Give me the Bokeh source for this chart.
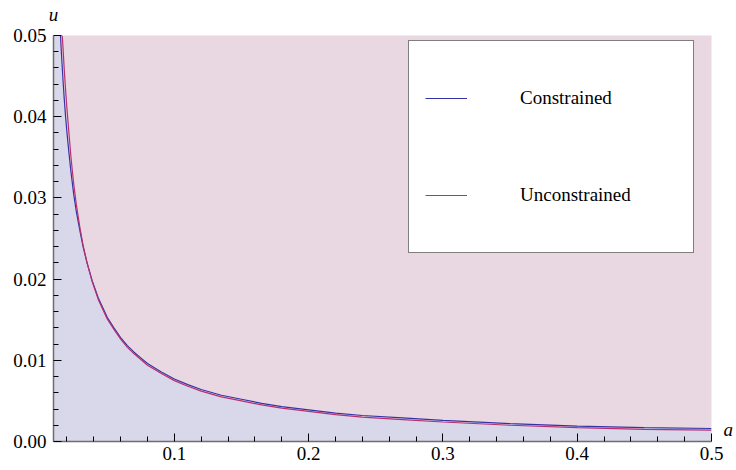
from bokeh.plotting import figure
from bokeh.models import (FixedTicker, NumeralTickFormatter, Legend, LegendItem,
                          LinearAxis, Range1d)
from bokeh.embed import file_html
from bokeh.resources import INLINE

# ---- data ----
a_constrained = [0.0152, 0.016, 0.017, 0.018, 0.019, 0.020, 0.0214, 0.023, 0.025, 0.027,
                 0.0296, 0.032, 0.035, 0.0388, 0.0433, 0.05, 0.055, 0.06, 0.065, 0.07,
                 0.075, 0.08, 0.09, 0.1, 0.11, 0.12, 0.135, 0.15, 0.165, 0.18, 0.2,
                 0.22, 0.24, 0.27, 0.3, 0.35, 0.4, 0.45, 0.5]
u_constrained = [0.0500, 0.0475, 0.0447, 0.0422, 0.0400, 0.0381, 0.0357, 0.0332, 0.0305,
                 0.0283, 0.0260, 0.0240, 0.0220, 0.0198, 0.0177, 0.0153, 0.0140, 0.0128,
                 0.0118, 0.0110, 0.0103, 0.0096, 0.0086, 0.0077, 0.0070, 0.0064, 0.0057,
                 0.0052, 0.0047, 0.0043, 0.0039, 0.0035, 0.0032, 0.0029, 0.0026, 0.0022,
                 0.0019, 0.0017, 0.0016]

a_unconstrained = [0.0165, 0.017, 0.018, 0.019, 0.020, 0.0215, 0.023, 0.025, 0.027,
                   0.0296, 0.032, 0.035, 0.0388, 0.0433, 0.05, 0.055, 0.06, 0.065, 0.07,
                   0.075, 0.08, 0.09, 0.1, 0.11, 0.12, 0.135, 0.15, 0.165, 0.18, 0.2,
                   0.22, 0.24, 0.27, 0.3, 0.35, 0.4, 0.45, 0.5]
u_unconstrained = [0.0500, 0.0487, 0.0458, 0.0433, 0.0410, 0.0380, 0.0350, 0.0318, 0.0292,
                   0.0264, 0.0242, 0.0220, 0.0197, 0.0175, 0.0151, 0.0138, 0.0126, 0.0116,
                   0.0108, 0.0101, 0.0094, 0.0084, 0.0075, 0.0068, 0.0062, 0.0055, 0.0050,
                   0.0045, 0.0041, 0.0037, 0.0033, 0.0030, 0.0027, 0.0024, 0.0020, 0.0017,
                   0.0015, 0.0014]

x_range = (0.01, 0.5)
y_range = (0.0, 0.05)
x_major_ticks = [0.1, 0.2, 0.3, 0.4, 0.5]
x_minor_ticks = [0.02, 0.04, 0.06, 0.08, 0.12, 0.14, 0.16, 0.18, 0.22, 0.24, 0.26, 0.28,
                 0.32, 0.34, 0.36, 0.38, 0.42, 0.44, 0.46, 0.48]
y_major_ticks = [0.0, 0.01, 0.02, 0.03, 0.04, 0.05]
y_minor_ticks = [0.002, 0.004, 0.006, 0.008, 0.012, 0.014, 0.016, 0.018, 0.022, 0.024,
                 0.026, 0.028, 0.032, 0.034, 0.036, 0.038, 0.042, 0.044, 0.046, 0.048]
series_names = ["Constrained", "Unconstrained"]
x_axis_name = "a"
y_axis_name = "u"

# ---- styles ----
BLUE = "#3434a8"
RED = "#b8306e"
FILL_BELOW = "#d9d8ea"
FILL_ABOVE = "#e9d8e2"
SERIF = "Liberation Serif"
A_NAME_LEVEL = 0.0015   # vertical placement of the "a" axis name (on a right-hand axis)

p = figure(width=736, height=470, output_backend="svg", toolbar_location=None,
           x_range=Range1d(*x_range), y_range=Range1d(*y_range),
           min_border_left=53, min_border_right=25, min_border_top=34,
           min_border_bottom=29)
p.background_fill_color = FILL_ABOVE
p.border_fill_color = "white"
p.outline_line_color = None
p.xgrid.visible = False
p.ygrid.visible = False

# fill below the constrained curve (clipped at the top of the frame)
fill_x = [x_range[0]] + a_constrained
fill_y = [y_range[1]] + u_constrained
p.varea(x=fill_x, y1=[y_range[0]] * len(fill_x), y2=fill_y, fill_color=FILL_BELOW)

r_c = p.line(a_constrained, u_constrained, line_color=BLUE, line_width=1.2)
r_u = p.line(a_unconstrained, u_unconstrained, line_color=RED, line_width=1.2)

legend = Legend(items=[LegendItem(label=series_names[0], renderers=[r_c]),
                       LegendItem(label=series_names[1], renderers=[r_u])],
                location=(355, 188), margin=0, padding=16,
                glyph_width=42, glyph_height=82, label_height=82,
                label_width=157, label_standoff=53, spacing=15,
                border_line_color="black", border_line_width=1,
                background_fill_color="white", background_fill_alpha=1.0,
                label_text_font=SERIF, label_text_font_size="19px",
                label_text_color="black")
p.add_layout(legend, "center")

# axes
for ax in (p.xaxis[0], p.yaxis[0]):
    ax.axis_line_color = "#6e6e6e"
    ax.axis_line_width = 1.5
    ax.major_tick_line_color = "black"
    ax.minor_tick_line_color = "black"
    ax.major_tick_in = 8
    ax.major_tick_out = 0
    ax.minor_tick_in = 5
    ax.minor_tick_out = 0
    ax.major_label_text_font = SERIF
    ax.major_label_text_font_size = "19px"
    ax.major_label_text_color = "black"

p.xaxis[0].ticker = FixedTicker(ticks=x_major_ticks, minor_ticks=x_minor_ticks)
p.yaxis[0].ticker = FixedTicker(ticks=y_major_ticks, minor_ticks=y_minor_ticks)
p.xaxis[0].formatter = NumeralTickFormatter(format="0.0")
p.yaxis[0].formatter = NumeralTickFormatter(format="0.00")
p.xaxis[0].major_label_standoff = 5
p.yaxis[0].major_label_standoff = 7


def name_axis(ax):
    ax.axis_line_color = None
    ax.major_tick_line_color = None
    ax.minor_tick_line_color = None
    ax.major_tick_in = 0
    ax.major_tick_out = 0
    ax.minor_tick_in = 0
    ax.minor_tick_out = 0
    ax.major_label_text_font = SERIF
    ax.major_label_text_font_style = "italic"
    ax.major_label_text_font_size = "19px"
    ax.major_label_text_color = "black"
    return ax


# "u" above the top of the vertical axis
top_ax = name_axis(LinearAxis(ticker=FixedTicker(ticks=[x_range[0]], minor_ticks=[]),
                              major_label_overrides={x_range[0]: y_axis_name},
                              major_label_standoff=11))
p.add_layout(top_ax, "above")

# "a" to the right of the horizontal axis
right_ax = name_axis(LinearAxis(ticker=FixedTicker(ticks=[A_NAME_LEVEL], minor_ticks=[]),
                                major_label_overrides={A_NAME_LEVEL: x_axis_name},
                                major_label_standoff=12))
p.add_layout(right_ax, "right")

open("out.html", "w").write(file_html(p, INLINE))
